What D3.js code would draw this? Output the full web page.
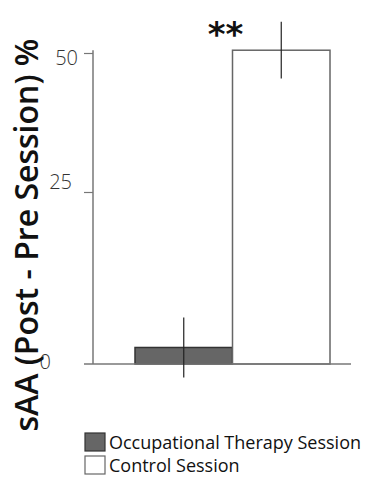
<!DOCTYPE html>
<html lang="en">
<head>
    <meta charset="UTF-8">
    <title>sAA change by session</title>
    <style>
        body {
            margin: 0;
            padding: 0;
            background: #fff;
        }

        svg {
            display: block;
        }

        .y-title {
            font-family: "Open Sans", sans-serif;
            font-size: 32px;
            font-weight: 600;
            fill: #111;
        }

        .tick text {
            font-family: "Open Sans", sans-serif;
            font-size: 20px;
            font-weight: 300;
            fill: #333;
        }

        .legend-text {
            font-family: "Open Sans", sans-serif;
            font-size: 18px;
            font-weight: 500;
            fill: #111;
        }

        .stars {
            font-family: "DejaVu Sans", sans-serif;
            font-size: 34px;
            font-weight: bold;
            fill: #111;
        }
    </style>
</head>
<body>
    <svg width="366" height="478"></svg>

    <script src="https://d3js.org/d3.v7.min.js"></script>
    <script>
        // values
        const sessions = ["Occupational Therapy Session", "Control Session"];
        const means = [2.4, 50.5];
        const errors = [4.35, 5.1];
        const stars = ["", "**"];
        const yTicks = [0, 25, 50];
        const yTitle = "sAA (Post - Pre Session) %";

        const svg = d3.select("svg");
        const axisX = 93;

        // the original axis is not evenly spaced, so the scale is piecewise
        const y = d3.scaleLinear()
            .domain([0, 25, 50])
            .range([364, 192, 53]);

        const x = d3.scaleBand()
            .domain(sessions)
            .range([135, 330])
            .padding(0);

        const fill = d3.scaleOrdinal()
            .domain(sessions)
            .range(["#666666", "#ffffff"]);

        const stroke = d3.scaleOrdinal()
            .domain(sessions)
            .range(["#333333", "#666666"]);

        // y axis
        const yAxis = svg.append("g")
            .attr("transform", `translate(${axisX},0)`)
            .call(d3.axisLeft(y).tickValues(yTicks).tickSize(9).tickPadding(6));

        yAxis.select(".domain").remove();
        yAxis.selectAll(".tick line").attr("stroke", "#777").attr("stroke-width", 1.2);
        yAxis.selectAll(".tick").filter(d => d === 0).select("line").remove();

        // hand-placed labels in the source figure
        const labelShift = { 0: [-27, -3], 25: [-6, -11], 50: [0, 4] };
        yAxis.selectAll(".tick text")
            .attr("dx", d => labelShift[d][0])
            .attr("dy", d => labelShift[d][1] + 7);

        yAxis.append("line")
            .attr("x1", 0).attr("x2", 0)
            .attr("y1", y(d3.max(means)))
            .attr("y2", y(0))
            .attr("stroke", "#777")
            .attr("stroke-width", 1.5);

        // bars
        svg.selectAll("rect.bar")
            .data(sessions)
            .enter()
            .append("rect")
            .attr("class", "bar")
            .attr("x", d => x(d))
            .attr("width", x.bandwidth())
            .attr("y", (d, i) => y(means[i]))
            .attr("height", (d, i) => y(0) - y(means[i]))
            .attr("fill", d => fill(d))
            .attr("stroke", d => stroke(d))
            .attr("stroke-width", 1.5);

        // baseline
        svg.append("line")
            .attr("x1", 84).attr("x2", 351)
            .attr("y1", y(0)).attr("y2", y(0))
            .attr("stroke", "#777")
            .attr("stroke-width", 1.5);

        // error bars
        svg.selectAll("line.err")
            .data(sessions)
            .enter()
            .append("line")
            .attr("class", "err")
            .attr("x1", d => x(d) + x.bandwidth() / 2)
            .attr("x2", d => x(d) + x.bandwidth() / 2)
            .attr("y1", (d, i) => y(means[i] + errors[i]))
            .attr("y2", (d, i) => y(means[i] - errors[i]))
            .attr("stroke", "#222")
            .attr("stroke-width", 1.2);

        // significance
        svg.selectAll("text.stars")
            .data(sessions)
            .enter()
            .append("text")
            .attr("class", "stars")
            .attr("x", d => x(d) - 7)
            .attr("y", 46)
            .attr("text-anchor", "middle")
            .text((d, i) => stars[i]);

        // y title
        svg.append("text")
            .attr("class", "y-title")
            .attr("transform", "translate(38,235) rotate(-90)")
            .attr("text-anchor", "middle")
            .text(yTitle);

        // legend (kept clear of the bottom edge)
        const legend = svg.selectAll("g.legend")
            .data(sessions)
            .enter()
            .append("g")
            .attr("class", "legend")
            .attr("transform", (d, i) => `translate(85,${433 + i * 23})`);

        legend.append("rect")
            .attr("width", 20)
            .attr("height", 18)
            .attr("fill", d => fill(d))
            .attr("stroke", d => stroke(d))
            .attr("stroke-width", 1.2);

        legend.append("text")
            .attr("class", "legend-text")
            .attr("x", 24)
            .attr("y", 16)
            .text(d => d);
    </script>
</body>
</html>
